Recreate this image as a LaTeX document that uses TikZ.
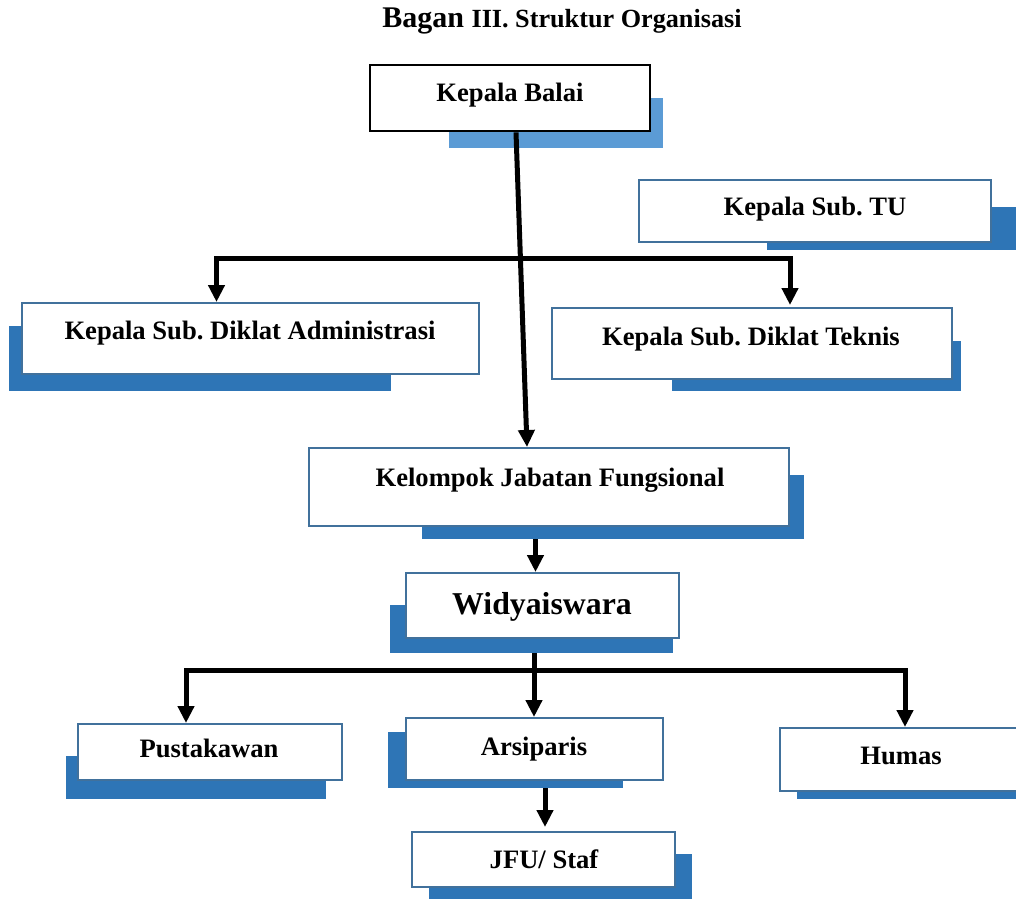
\documentclass[tikz,border=0pt]{standalone}
\usepackage{fontspec}
\setmainfont{Liberation Serif}
\usetikzlibrary{arrows.meta,fit}
\definecolor{shadowblue}{HTML}{2E75B6}
\definecolor{lightshadow}{HTML}{5B9BD5}
\definecolor{borderblue}{HTML}{41719C}
\frenchspacing
\tikzset{
  box/.style={draw=borderblue, line width=1pt, fill=white, inner sep=0pt},
  topbox/.style={draw=black, line width=1.4pt, fill=white, inner sep=0pt},
  shade/.style={fill=shadowblue, inner sep=0pt},
  lshade/.style={fill=lightshadow, inner sep=0pt},
  lbl/.style={font=\fontsize{13.3}{16}\selectfont\bfseries\frenchspacing, anchor=base, inner sep=0pt},
  biglbl/.style={font=\fontsize{15.9}{19}\selectfont\bfseries, anchor=base, inner sep=0pt},
  conn/.style={line width=2.5pt, line join=miter, -{Triangle[width=8pt,length=8.5pt]}}
}
\begin{document}
\begin{tikzpicture}[x=0.5pt,y=-0.5pt]
\useasboundingbox (0,0) rectangle (1016,899);
% title
\node[anchor=base, inner sep=0pt] (title) at (562,28)
  {\bfseries\frenchspacing\fontsize{15}{18}\selectfont Bagan \fontsize{13.1}{16}\selectfont III. Struktur Organisasi};
% shadows
\node[lshade, fit={(449,98)(663,148)}] (kbs) {};
\node[shade, fit={(767,207)(1020,250)}] (tus) {};
\node[shade, fit={(9,326)(391,391)}] (adas) {};
\node[shade, fit={(672,341)(961,391)}] (teks) {};
\node[shade, fit={(422,475)(804,539)}] (kjfs) {};
\node[shade, fit={(390,605)(673,653)}] (wids) {};
\node[shade, fit={(66,756)(326,799)}] (puss) {};
\node[shade, fit={(388,732)(623,788)}] (arss) {};
\node[shade, fit={(429,854)(692,899)}] (jfus) {};
\node[shade, fit={(797,760)(1030,799)}] (hums) {};
% boxes
\node[topbox, fit={(370,65)(650,131)}] (kb) {};
\node[box, fit={(639,180)(991,242)}] (tu) {};
\node[box, fit={(22,303)(479,374)}] (ada) {};
\node[box, fit={(552,308)(952,379)}] (tek) {};
\node[box, fit={(309,448)(789,526)}] (kjf) {};
\node[box, fit={(406,573)(679,638)}] (wid) {};
\node[box, fit={(78,724)(342,780)}] (pus) {};
\node[box, fit={(406,718)(663,780)}] (ars) {};
\node[box, fit={(412,832)(675,887)}] (jfu) {};
\node[box, fit={(780,728)(1022,791)}] (hum) {};
% labels
\node[lbl] (tkb) at (510,102) {Kepala Balai};
\node[lbl] (ttu) at (815,215) {Kepala Sub. TU};
\node[lbl] (tada) at (250,339) {Kepala Sub. Diklat Administrasi};
\node[lbl] (ttek) at (751,345) {Kepala Sub. Diklat Teknis};
\node[lbl] (tkjf) at (550,486) {Kelompok Jabatan Fungsional};
\node[biglbl] (twid) at (542,614) {Widyaiswara};
\node[lbl] (tpus) at (209,757) {Pustakawan};
\node[lbl] (tars) at (534,755) {Arsiparis};
\node[lbl] (tjfu) at (544,868) {JFU/ Staf};
\node[lbl] (thum) at (901,764) {Humas};
% connectors
\coordinate (j1) at (520,258);
\coordinate (j2) at (534,670);
\draw[conn] ([xshift=3pt]kb.south) -- ([xshift=-11pt]kjf.north);
\draw[conn] (j1) -| ([xshift=-17pt]ada.north);
\draw[conn] (j1) -| ([xshift=19pt,yshift=1pt]tek.north);
\draw[conn] ([xshift=-3.5pt]wid.north |- kjfs.south) -- ([xshift=-3.5pt]wid.north);
\draw[line width=2.5pt] (j2 |- wids.south) -- (j2);
\draw[conn] (j2) -| ([xshift=-12pt]pus.north);
\draw[conn] (j2) -- (ars.north -| j2);
\draw[conn] (j2) -| ([xshift=2pt]hum.north);
\draw[conn] ([xshift=0.75pt]jfu.north |- arss.south) -- ([xshift=0.75pt,yshift=2pt]jfu.north);
\end{tikzpicture}
\end{document}
